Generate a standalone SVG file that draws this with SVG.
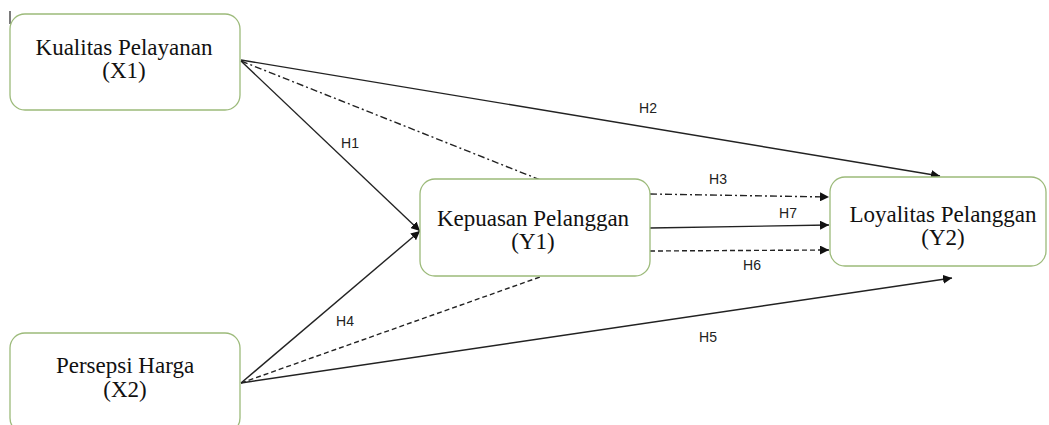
<svg xmlns="http://www.w3.org/2000/svg" width="1049" height="425" viewBox="0 0 1049 425">
<style>
.box{fill:#fff;stroke:#9cba7a;stroke-width:1.3}
.t{font-family:"Liberation Serif",serif;font-size:23px;fill:#111;text-anchor:middle}
.lbl{font-family:"Liberation Sans",Arial,sans-serif;font-size:14px;fill:#222;text-anchor:middle}
.c{stroke:#222;stroke-width:1.4;fill:none}
.dd{stroke-dasharray:7 3 2 3}
.da{stroke-dasharray:5 3}
</style>
<defs>
<marker id="ah" viewBox="0 0 10 10" refX="10" refY="5" markerWidth="9" markerHeight="9" markerUnits="userSpaceOnUse" orient="auto">
<path d="M0,0 L10,5 L0,10 z" fill="#111"/>
</marker>
</defs>
<rect width="1049" height="425" fill="#fff"/>
<line x1="10" y1="11" x2="10" y2="24" stroke="#222" stroke-width="1.2"/>
<g id="connectors">
<line class="c" x1="241" y1="60" x2="940" y2="176" marker-end="url(#ah)"/>
<line class="c dd" x1="241" y1="61" x2="543" y2="181"/>
<line class="c" x1="241" y1="61" x2="420" y2="231" marker-end="url(#ah)"/>
<line class="c" x1="241" y1="383" x2="420" y2="231" marker-end="url(#ah)"/>
<line class="c da" x1="241" y1="383" x2="540" y2="277"/>
<line class="c" x1="241" y1="383" x2="952" y2="278" marker-end="url(#ah)"/>
<line class="c dd" x1="650" y1="194" x2="829" y2="197" marker-end="url(#ah)"/>
<line class="c" x1="650" y1="228" x2="829" y2="225" marker-end="url(#ah)"/>
<line class="c da" x1="650" y1="251" x2="829" y2="250" marker-end="url(#ah)"/>
</g>
<g id="labels">
<text class="lbl" x="350" y="148">H1</text>
<text class="lbl" x="648" y="113">H2</text>
<text class="lbl" x="718" y="184">H3</text>
<text class="lbl" x="788" y="218">H7</text>
<text class="lbl" x="752" y="270">H6</text>
<text class="lbl" x="345" y="326">H4</text>
<text class="lbl" x="708" y="342">H5</text>
</g>
<g id="x1">
<rect class="box" x="10" y="14" width="230" height="96" rx="15"/>
<text class="t" x="124" y="55">Kualitas Pelayanan</text>
<text class="t" x="124" y="78">(X1)</text>
</g>
<g id="y1">
<rect class="box" x="420" y="179" width="230" height="97" rx="15"/>
<text class="t" x="533" y="226">Kepuasan Pelanggan</text>
<text class="t" x="533" y="249">(Y1)</text>
</g>
<g id="y2">
<rect class="box" x="830" y="177" width="216" height="89" rx="15"/>
<text class="t" x="943" y="222">Loyalitas Pelanggan</text>
<text class="t" x="943" y="245">(Y2)</text>
</g>
<g id="x2">
<rect class="box" x="10" y="333" width="230" height="100" rx="15"/>
<text class="t" x="125" y="373">Persepsi Harga</text>
<text class="t" x="125" y="397">(X2)</text>
</g>
</svg>
